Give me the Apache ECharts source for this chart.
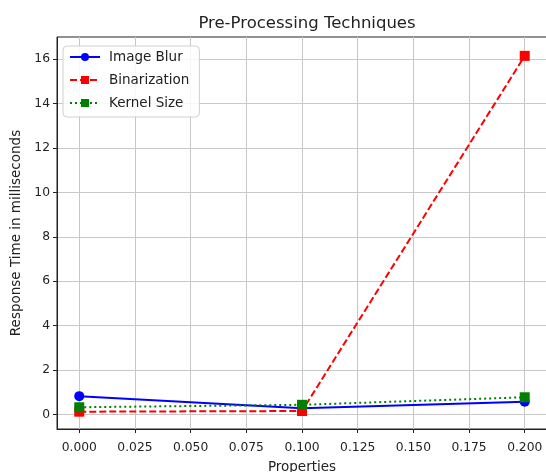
<!DOCTYPE html>
<html>
<head>
<meta charset="utf-8">
<script src="https://cdn.jsdelivr.net/npm/echarts@6/dist/echarts.min.js"></script>
<style>html,body{margin:0;padding:0;background:#fff}#c{width:546px;height:472px}</style>
</head>
<body>
<div id="c"></div>
<script>
const xValues = [0.0, 0.1, 0.2];
const imageBlur = [0.82, 0.27, 0.57];
const binarization = [0.12, 0.15, 16.15];
const kernelSize = [0.32, 0.43, 0.77];
const xTicks = [0, 0.025, 0.05, 0.075, 0.1, 0.125, 0.15, 0.175, 0.2];
const yTicks = [0, 2, 4, 6, 8, 10, 12, 14, 16];

const pairs = ys => xValues.map((x, i) => [x, ys[i]]);
const font = 'DejaVu Sans';
const chart = echarts.init(document.getElementById('c'), null, {renderer: 'canvas'});
chart.setOption({
  animation: false,
  backgroundColor: '#fff',
  textStyle: {fontFamily: font},
  title: {
    text: 'Pre-Processing Techniques',
    left: 302, top: 10, textAlign: 'center',
    textStyle: {fontFamily: font, fontSize: 16.5, fontWeight: 'normal', color: '#222'}
  },
  grid: {left: 57, top: 37, right: -1, bottom: 43, show: true, borderColor: '#222', borderWidth: 1,
         backgroundColor: 'transparent', outerBoundsMode: 'none', containLabel: false},
  legend: {
    orient: 'vertical', left: 63, top: 46,
    itemWidth: 30, itemHeight: 10, itemGap: 9,
    padding: [4, 10, 7, 6],
    backgroundColor: 'rgba(255,255,255,0.85)',
    borderColor: '#d0d0d0', borderWidth: 1, borderRadius: 4,
    textStyle: {fontFamily: font, fontSize: 13.5, color: '#222', padding: [0, 0, 0, 4]},
    data: ['Image Blur', 'Binarization', 'Kernel Size']
  },
  xAxis: {
    type: 'value', min: -0.01, max: 0.21,
    minInterval: 0.025, maxInterval: 0.025,
    name: 'Properties', nameLocation: 'middle', nameGap: 31,
    nameTextStyle: {fontFamily: font, fontSize: 13.5, color: '#222'},
    axisLine: {show: true, onZero: false, lineStyle: {color: '#222'}},
    axisTick: {show: true, length: 4, lineStyle: {color: '#222'}, customValues: xTicks},
    axisLabel: {show: true, customValues: xTicks,
      fontFamily: font, fontSize: 12.3, color: '#222', margin: 13,
      formatter: v => v.toFixed(3)},
    splitLine: {show: true, lineStyle: {color: '#c8c8c8', width: 1}}
  },
  yAxis: {
    type: 'value', min: -0.66, max: 17.0,
    minInterval: 2, maxInterval: 2,
    name: 'Response Time in milliseconds', nameLocation: 'middle', nameGap: 34,
    nameTextStyle: {fontFamily: font, fontSize: 13.5, color: '#222'},
    axisLine: {show: true, onZero: false, lineStyle: {color: '#222'}},
    axisTick: {show: true, length: 4, lineStyle: {color: '#222'}, customValues: yTicks},
    axisLabel: {show: true, customValues: yTicks,
      fontFamily: font, fontSize: 12.3, color: '#222', margin: 7,
      formatter: v => String(Math.round(v))},
    splitLine: {show: true, lineStyle: {color: '#c8c8c8', width: 1}}
  },
  series: [
    {name: 'Image Blur', type: 'line', data: pairs(imageBlur), symbol: 'circle', symbolSize: 10,
     itemStyle: {color: '#0000ff'}, lineStyle: {color: '#0000ff', width: 2, type: 'solid'}, z: 3},
    {name: 'Binarization', type: 'line', data: pairs(binarization), symbol: 'rect', symbolSize: 10,
     itemStyle: {color: '#ff0000'}, lineStyle: {color: '#ff0000', width: 2, type: [7, 3]}, z: 4},
    {name: 'Kernel Size', type: 'line', data: pairs(kernelSize), symbol: 'rect', symbolSize: 10,
     itemStyle: {color: '#008000'}, lineStyle: {color: '#008000', width: 2, type: [2, 3]}, z: 5}
  ]
});
</script>
</body>
</html>
